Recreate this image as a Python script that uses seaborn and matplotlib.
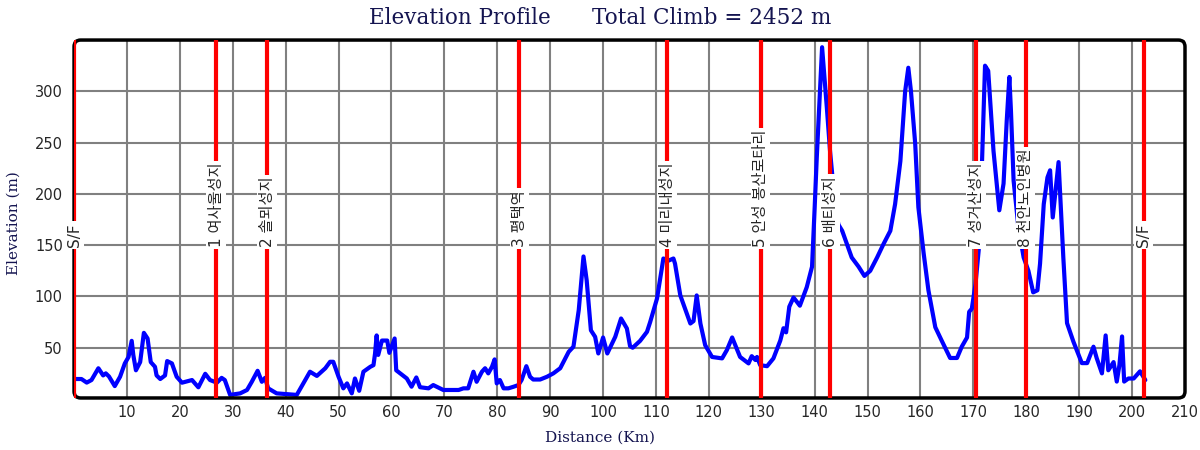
import matplotlib.pyplot as plt
import seaborn as sns
from matplotlib.patches import FancyBboxPatch

# elevation profile (km, m)
dist = [0.0, 1.4, 2.4, 3.3, 4.6, 5.5, 6.0, 6.6, 7.7, 8.7, 9.6, 10.3, 10.9, 11.2, 11.7,
        12.5, 13.2, 13.9, 14.5, 15.3, 15.6, 16.3, 17.2, 17.6, 18.5, 19.4, 20.4, 22.3,
        23.5, 24.8, 25.7, 27.0, 27.9, 28.5, 29.5, 31.4, 32.7, 33.6, 34.7, 35.5, 36.1,
        36.7, 38.3, 42.1, 44.6, 45.9, 47.5, 48.4, 49.0, 50.0, 50.9, 51.6, 52.5, 53.1,
        53.9, 54.7, 56.0, 56.6, 56.9, 57.2, 57.5, 58.2, 59.2, 59.6, 60.6, 60.9, 62.9,
        63.8, 64.7, 65.4, 67.0, 67.9, 69.8, 72.7, 73.6, 74.5, 75.5, 76.1, 77.1, 77.7,
        78.3, 79.0, 79.5, 79.9, 80.5, 81.2, 82.1, 83.1, 84.0, 84.6, 85.5, 86.2, 86.8,
        88.1, 89.4, 90.6, 91.9, 93.5, 94.4, 95.4, 96.3, 96.9, 97.7, 98.5, 99.1, 100.0,
        100.8, 102.3, 103.4, 104.5, 105.1, 105.6, 107.0, 108.3, 108.9, 110.2, 111.4,
        112.4, 113.3, 113.6, 114.6, 116.5, 117.1, 117.7, 118.4, 119.3, 120.6, 122.5,
        123.4, 124.4, 125.9, 127.5, 128.1, 128.8, 129.1, 129.7, 131.0, 132.2, 133.5,
        134.1, 134.6, 135.2, 136.0, 137.2, 138.5, 139.5, 140.0, 140.4, 141.4, 142.3,
        142.9, 143.3, 143.9, 144.5, 145.2, 147.0, 148.3, 149.4, 150.5, 151.8, 153.0,
        154.3, 155.2, 156.2, 157.1, 157.7, 158.2, 159.0, 159.6, 160.6, 161.5, 162.8,
        164.0, 165.6, 166.9, 167.8, 168.8, 169.2, 169.7, 170.4, 171.0, 171.6, 172.2,
        172.8, 173.8, 174.9, 175.7, 176.3, 176.8, 177.1, 177.6, 178.5, 179.5, 180.4,
        181.3, 182.1, 182.6, 183.3, 184.0, 184.5, 185.0, 186.1, 187.0, 187.7, 188.9,
        190.5, 191.5, 192.7, 193.3, 194.3, 195.0, 195.5, 196.5, 197.1, 197.6, 198.1,
        198.5, 199.3, 200.3, 201.5, 202.5]
elev = [19.5, 19.5, 16, 18.5, 30, 23, 25, 22, 12.6, 21.7, 34.7, 41, 56.7, 43, 28,
        36, 64.5, 59, 36, 31.4, 23, 19.5, 23, 37, 34.7, 21.7, 15.9, 18.5,
        11.4, 24.6, 18.5, 15.9, 20.6, 18.5, 4, 5.5, 8.8, 16.8, 27.5, 16.8, 20.6,
        10.4, 5.5, 4, 26.6, 22.5, 30, 36.3, 36.3, 21.7, 10.4, 15.2, 5.5, 20,
        8, 26.6, 31.4, 33, 44.4, 62, 43, 57, 57, 45, 59, 28, 20,
        12, 21, 11.5, 10.4, 13.6, 8.8, 8.8, 10.4, 10.4, 26.6, 16.8, 26.6, 30,
        25, 31.4, 38.6, 15.2, 18.5, 10.4, 10.4, 12, 13.6, 18.5, 32, 21.7, 19,
        19, 21.7, 25, 30, 46, 51, 86.6, 139, 115.8, 67, 60.6, 44.4, 60,
        44.4, 60.6, 78.5, 68.8, 51.6, 50, 56.7, 65.5, 75, 98, 137,
        135, 137, 132, 101, 73.6, 76, 101, 73.6, 52.5, 41, 39.6,
        47.7, 60, 41, 34.7, 41.8, 38, 41, 33, 32, 39.6, 57,
        69, 65, 90, 99, 91, 109, 129, 187, 236, 343, 284,
        242, 220, 185, 170, 164, 138, 129, 120, 125, 138, 151,
        164, 190, 232, 300, 323, 300, 249, 187, 142, 106, 70,
        57, 40, 40, 51, 60, 85, 88, 112, 145, 226, 325,
        320, 242, 184, 210, 271, 314, 281, 213, 168, 138, 125,
        104, 106, 132, 190, 216, 223, 177, 231, 138, 74, 56,
        35, 35, 51, 40, 25, 62, 28, 36, 17, 33, 61,
        17, 20, 20, 27, 18.5]

# checkpoints
stop_km = [0.0, 26.85, 36.5, 84.2, 112.1, 129.8, 142.9, 170.5, 179.9, 202.2]
stop_names = ["S/F", "1 여사울성지", "2 솔뫼성지", "3 평택역", "4 미리내성지",
              "5 안성 봉산로타리", "6 배티성지", "7 성거산성지", "8 천안노인병원", "S/F"]

navy = "#141450"

sns.set_style("white")
plt.rcParams['font.family'] = ['DejaVu Sans', 'Noto Sans CJK KR']

fig, ax = plt.subplots(figsize=(12, 4.5), dpi=100)
fig.subplots_adjust(left=0.0617, right=0.9875, top=0.911, bottom=0.1156)

ax.set_xlim(0, 210)
ax.set_ylim(1, 350)
ax.set_xticks(range(10, 211, 10))
ax.set_yticks(range(50, 301, 50))
ax.grid(True, color="#808080", lw=1.5)
ax.set_axisbelow(True)
ax.tick_params(axis='both', length=0, labelsize=10.5)
ax.tick_params(axis='x', pad=5)
ax.tick_params(axis='y', pad=8)

sns.lineplot(x=dist, y=elev, color="blue", lw=3, ax=ax, zorder=3)

for km, name in zip(stop_km, stop_names):
    ax.axvline(km, color="red", lw=3, zorder=4)
    ax.text(km, 148, name, rotation=90, ha='center', va='bottom', fontsize=11,
            zorder=5, bbox=dict(facecolor='white', edgecolor='none', pad=1.5))

# rounded frame instead of the spines
for s in ax.spines.values():
    s.set_visible(False)
frame = FancyBboxPatch((0, 0), 1, 1, boxstyle="round,pad=0,rounding_size=0.006",
                       transform=ax.transAxes, fill=False, lw=2.5, ec="black",
                       mutation_aspect=1111 / 358, clip_on=False, zorder=3.5)
ax.add_patch(frame)

ax.set_xlabel("Distance (Km)", fontsize=11, color=navy, family="DejaVu Serif")
ax.set_ylabel("Elevation (m)", fontsize=11, color=navy, family="DejaVu Serif")
ax.xaxis.set_label_coords(0.473, -0.09)
ax.yaxis.set_label_coords(-0.048, 0.49)

fig.text(0.5, 1 - 18 / 450, "Elevation Profile      Total Climb = 2452 m",
         ha='center', va='center', fontsize=15.5, color=navy, family="DejaVu Serif")

fig.savefig("out.png", dpi=100)
